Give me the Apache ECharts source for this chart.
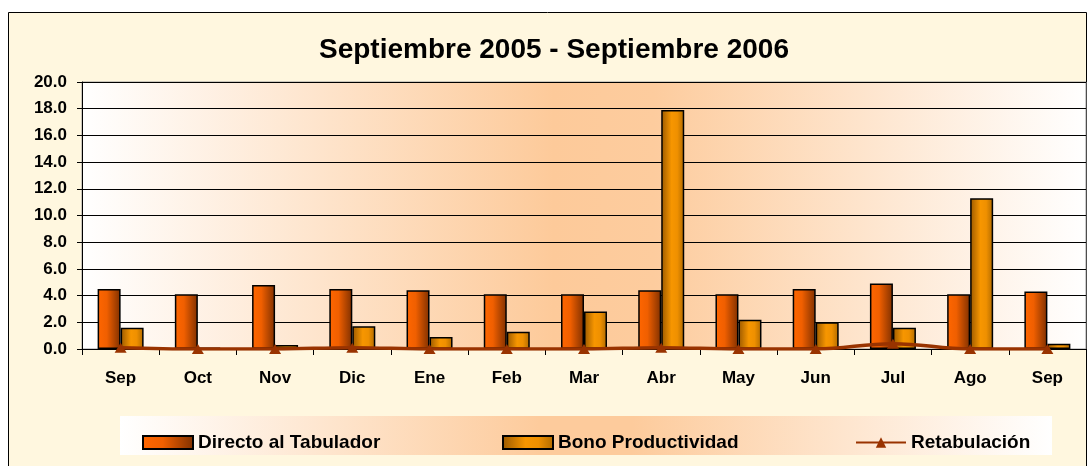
<!DOCTYPE html>
<html>
<head>
<meta charset="utf-8">
<script src="https://cdn.jsdelivr.net/npm/echarts@6/dist/echarts.min.js"></script>
<style>
  html, body { margin: 0; padding: 0; background: #fff; }
  #main { width: 1090px; height: 466px; }
</style>
</head>
<body>
<div id="main"></div>
<script>
// month labels
var months = ['Sep', 'Oct', 'Nov', 'Dic', 'Ene', 'Feb', 'Mar', 'Abr', 'May', 'Jun', 'Jul', 'Ago', 'Sep'];
// series values
var directo = [4.5, 4.1, 4.8, 4.5, 4.4, 4.1, 4.1, 4.4, 4.1, 4.5, 4.9, 4.1, 4.3];
var bono = [1.6, 0.1, 0.3, 1.7, 0.9, 1.3, 2.8, 17.9, 2.2, 2.0, 1.6, 11.3, 0.4];
var retab = [0.1, 0.0, 0.0, 0.1, 0.0, 0.0, 0.0, 0.1, 0.0, 0.0, 0.4, 0.0, 0.0];

var FONT = '"Liberation Sans", Arial, sans-serif';

function hGrad(stops) {
    return new echarts.graphic.LinearGradient(0, 0, 1, 0, stops);
}

var legendText = { fontFamily: FONT, fontSize: 19, fontWeight: 'bold', color: '#000' };

function legendAt(x, name, icon) {
    var l = {
        left: x, top: 428,
        itemWidth: 50, itemHeight: 13, itemGap: 0,
        textStyle: legendText,
        data: [name]
    };
    if (icon) l.icon = icon;
    return l;
}

var chart = echarts.init(document.getElementById('main'));
var option = {
    backgroundColor: '#ffffff',
    animation: false,
    textStyle: { fontFamily: FONT },
    graphic: [
        {
            type: 'rect', z: -10, silent: true,
            shape: { x: 8.5, y: 12.5, width: 1078, height: 470 },
            style: { fill: '#fff7df', stroke: '#000', lineWidth: 1 }
        },
        {
            type: 'rect', z: -9, silent: true,
            shape: { x: 120, y: 416, width: 932, height: 39 },
            style: {
                fill: hGrad([
                    { offset: 0, color: '#ffffff' },
                    { offset: 0.45, color: '#fdcb9c' },
                    { offset: 0.55, color: '#fdcb9c' },
                    { offset: 1, color: '#ffffff' }
                ])
            }
        }
    ],
    title: {
        text: 'Septiembre 2005 - Septiembre 2006',
        left: 314,
        top: 31,
        textStyle: { fontFamily: FONT, fontSize: 28, fontWeight: 'bold', color: '#000' }
    },
    legend: [
        legendAt(137, 'Directo al Tabulador', 'rect'),
        legendAt(497, 'Bono Productividad', 'rect'),
        legendAt(850, 'Retabulación')
    ],
    grid: {
        left: 82, right: 4, top: 82, bottom: 117,
        show: true,
        borderWidth: 1,
        borderColor: '#999',
        backgroundColor: hGrad([
            { offset: 0, color: '#ffffff' },
            { offset: 0.47, color: '#fdca9a' },
            { offset: 0.57, color: '#fdcc9e' },
            { offset: 1, color: '#ffffff' }
        ])
    },
    xAxis: {
        type: 'category',
        data: months,
        axisLine: { lineStyle: { color: '#000', width: 1 } },
        axisTick: { show: true, length: 6, lineStyle: { color: '#000' } },
        axisLabel: { margin: 21, fontFamily: FONT, fontSize: 17, fontWeight: 'bold', color: '#000' }
    },
    yAxis: {
        type: 'value',
        min: 0, max: 20, interval: 2,
        axisLine: { show: true, lineStyle: { color: '#000' } },
        axisTick: { show: true, length: 5, lineStyle: { color: '#000' } },
        splitLine: { lineStyle: { color: '#000', width: 1 } },
        axisLabel: {
            margin: 15, fontFamily: FONT, fontSize: 17, fontWeight: 'bold', color: '#000',
            formatter: function (v) { return v.toFixed(1); }
        }
    },
    series: [
        {
            name: 'Directo al Tabulador',
            type: 'bar',
            data: directo,
            barWidth: 23,
            barGap: '0%',
            itemStyle: {
                color: hGrad([
                    { offset: 0, color: '#ff6600' },
                    { offset: 0.4, color: '#f05f00' },
                    { offset: 1, color: '#7f3000' }
                ]),
                borderColor: '#000',
                borderWidth: 1.5
            }
        },
        {
            name: 'Bono Productividad',
            type: 'bar',
            data: bono,
            barWidth: 23,
            itemStyle: {
                color: hGrad([
                    { offset: 0, color: '#9a5800' },
                    { offset: 0.45, color: '#f79600' },
                    { offset: 0.7, color: '#ef9000' },
                    { offset: 1, color: '#b06a00' }
                ]),
                borderColor: '#000',
                borderWidth: 1.5
            }
        },
        {
            name: 'Retabulación',
            type: 'line',
            data: retab,
            smooth: 0.4,
            smoothMonotone: 'x',
            symbol: 'triangle',
            symbolSize: [12, 10],
            lineStyle: { color: '#993300', width: 3.5 },
            itemStyle: { color: '#993300' }
        }
    ]
};
chart.setOption(option);
</script>
</body>
</html>
